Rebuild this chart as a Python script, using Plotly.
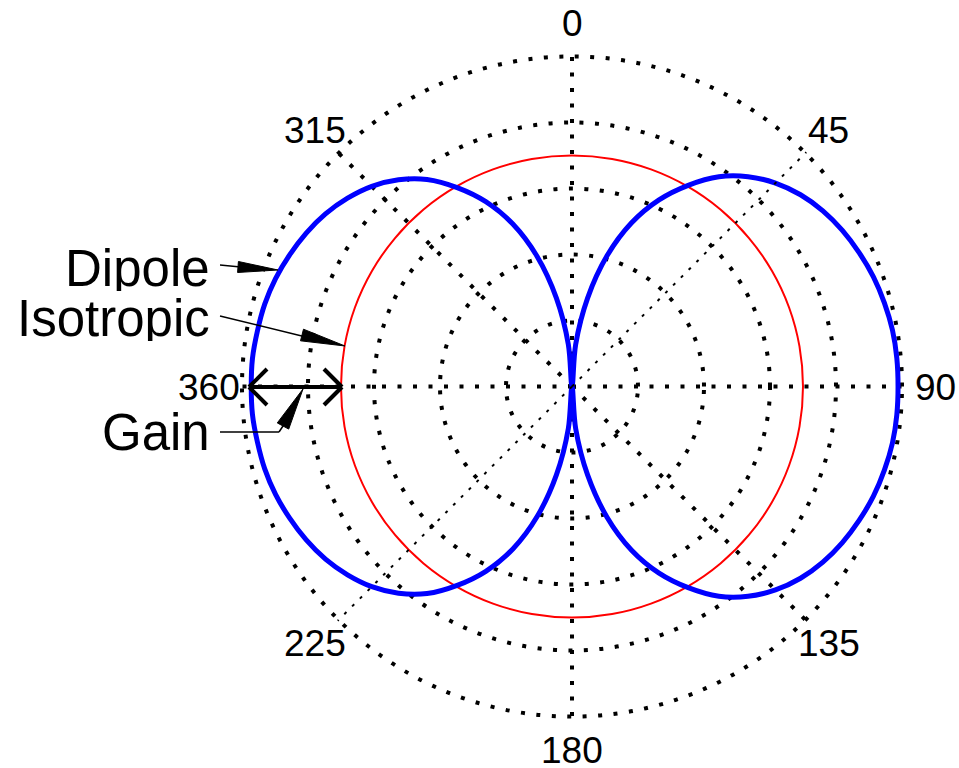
import math
import plotly.graph_objects as go

# ---------------- data ----------------
dipole_theta = list(range(0, 361, 5))
dipole_r = [0.00, 0.64, 1.36, 2.05, 2.64, 3.12, 3.52, 3.88, 4.15, 4.36,
            4.52, 4.64, 4.73, 4.80, 4.86, 4.90, 4.93, 4.94, 4.94, 4.94,
            4.93, 4.90, 4.86, 4.80, 4.73, 4.64, 4.52, 4.36, 4.15, 3.88,
            3.52, 3.12, 2.64, 2.05, 1.36, 0.64, 0.00, 0.64, 1.36, 2.04,
            2.62, 3.09, 3.48, 3.83, 4.09, 4.29, 4.44, 4.56, 4.65, 4.72,
            4.78, 4.82, 4.84, 4.86, 4.86, 4.86, 4.84, 4.82, 4.78, 4.72,
            4.65, 4.56, 4.44, 4.29, 4.09, 3.83, 3.48, 3.09, 2.62, 2.04,
            1.36, 0.64, 0.00]

iso_theta = list(range(0, 361, 10))
iso_r = [3.5, 3.5, 3.5, 3.5, 3.5, 3.5, 3.5, 3.5, 3.5, 3.5,
         3.5, 3.5, 3.5, 3.5, 3.5, 3.5, 3.5, 3.5, 3.5, 3.5,
         3.5, 3.5, 3.5, 3.5, 3.5, 3.5, 3.5, 3.5, 3.5, 3.5,
         3.5, 3.5, 3.5, 3.5, 3.5, 3.5, 3.5]

ring_values = [1, 2, 3, 4, 5]
spoke_angles_main = [0, 90, 135, 180, 270, 315]
spoke_angles_thin = [45, 225]
tick_angles = [0, 45, 90, 135, 180, 225, 270, 315]
tick_labels = ["0", "45", "90", "135", "180", "225", "360", "315"]

# ---------------- geometry helpers ----------------
W, H = 959, 768
OFF = 0                        # body margin removed by post_script
CX, CY, R = 572, 386.5, 330.0  # centre / outer ring radius in page pixels
RMAX = 5.02
RF = R * RMAX / 5.0
dom_x = [(CX - OFF - RF) / W, (CX - OFF + RF) / W]
dom_y = [((H - (CY - OFF)) - RF) / H, ((H - (CY - OFF)) + RF) / H]


def px(x):
    return (x - OFF) / W


def py(y):
    return 1 - (y - OFF) / H


shapes = []


def seg(x0, y0, x1, y1, w):
    shapes.append(dict(type="line", xref="paper", yref="paper",
                       x0=px(x0), y0=py(y0), x1=px(x1), y1=py(y1),
                       line=dict(color="black", width=w)))


def head(tx, ty, bx, by, width):
    dx, dy = tx - bx, ty - by
    L = (dx * dx + dy * dy) ** 0.5
    nx, ny = -dy / L, dx / L
    p1 = (bx + nx * width / 2, by + ny * width / 2)
    p2 = (bx - nx * width / 2, by - ny * width / 2)
    path = "M {:.5f},{:.5f} L {:.5f},{:.5f} L {:.5f},{:.5f} Z".format(
        px(tx), py(ty), px(p1[0]), py(p1[1]), px(p2[0]), py(p2[1]))
    shapes.append(dict(type="path", xref="paper", yref="paper", path=path,
                       fillcolor="black", line=dict(color="black", width=1)))


fig = go.Figure()

fig.add_trace(go.Scatterpolar(
    r=iso_r, theta=iso_theta, mode="lines",
    line=dict(color="#ff0000", width=2, shape="spline", smoothing=0.8),
    subplot="polar", hoverinfo="skip"))

fig.add_trace(go.Scatterpolar(
    r=dipole_r, theta=dipole_theta, mode="lines",
    line=dict(color="#0000ff", width=5, shape="spline", smoothing=1.0),
    subplot="polar", hoverinfo="skip"))

# empty trace so the overlay subplot (thin 45/225 spoke) is drawn
fig.add_trace(go.Scatterpolar(r=[], theta=[], mode="lines",
                              subplot="polar2", hoverinfo="skip"))

dot_main = "4px,11.5px"
common_ang = dict(direction="clockwise", rotation=90, showline=False,
                  showticklabels=False, ticks="")

fig.update_layout(
    width=W, height=H,
    margin=dict(l=0, r=0, t=0, b=0),
    paper_bgcolor="white",
    showlegend=False,
    font=dict(family="Liberation Sans, Arial", color="black"),
    polar=dict(
        domain=dict(x=dom_x, y=dom_y),
        bgcolor="white",
        radialaxis=dict(range=[0, RMAX], tickvals=ring_values,
                        showticklabels=False, ticks="", showline=False,
                        showgrid=True, gridcolor="black", gridwidth=4,
                        griddash=dot_main),
        angularaxis=dict(tickvals=spoke_angles_main, showgrid=True,
                         gridcolor="black", gridwidth=4, griddash=dot_main,
                         **common_ang),
    ),
    polar2=dict(
        domain=dict(x=dom_x, y=dom_y),
        bgcolor="rgba(0,0,0,0)",
        radialaxis=dict(range=[0, RMAX], tickvals=ring_values,
                        showticklabels=False, ticks="", showline=False,
                        showgrid=False),
        angularaxis=dict(tickvals=spoke_angles_thin, showgrid=True,
                         gridcolor="black", gridwidth=1.5, griddash="3px,8px",
                         **common_ang),
    ),
)

# ---------------- callouts ----------------
# Dipole
seg(220, 265, 262, 269, 1.5)
head(278, 270, 238, 267, 11)
# Isotropic
seg(220, 316, 310, 338, 1.5)
head(345, 346, 302, 335, 12)
# Gain (bent leader)
seg(220, 432, 279, 432, 1.5)
seg(279, 432, 285, 423, 1.5)
head(303, 389, 283, 426, 13)
# double-headed gain arrow
seg(249, 387, 342, 387, 4)
seg(249, 387, 267, 369, 4)
seg(249, 387, 267, 405, 4)
seg(342, 387, 324, 369, 4)
seg(342, 387, 324, 405, 4)

fig.update_layout(shapes=shapes)

# angular tick labels, centred at 1.1 x outer radius (like MATLAB polar)
tick_font = dict(family="Liberation Sans, Arial", size=37, color="black")
LR = 1.1 * R
for ang, lab in zip(tick_angles, tick_labels):
    a = math.radians(ang)
    yc = min(CY - LR * math.cos(a), H - 18)
    fig.add_annotation(text=lab, xref="paper", yref="paper",
                       x=px(CX + LR * math.sin(a)), y=py(yc),
                       xanchor="center", yanchor="middle", height=32,
                       showarrow=False, font=tick_font)

label_font = dict(family="Liberation Sans, Arial", size=51, color="black")
for txt, yc in [("Dipole", 268), ("Isotropic", 318), ("Gain", 432)]:
    fig.add_annotation(text=txt, xref="paper", yref="paper",
                       x=px(212), y=py(yc), xanchor="right", yanchor="middle",
                       height=46, showarrow=False, font=label_font)

fig.write_html("out.html",
               config={"displayModeBar": False},
               post_script="document.body.style.margin='0px';"
                           "document.body.style.overflow='hidden';")
